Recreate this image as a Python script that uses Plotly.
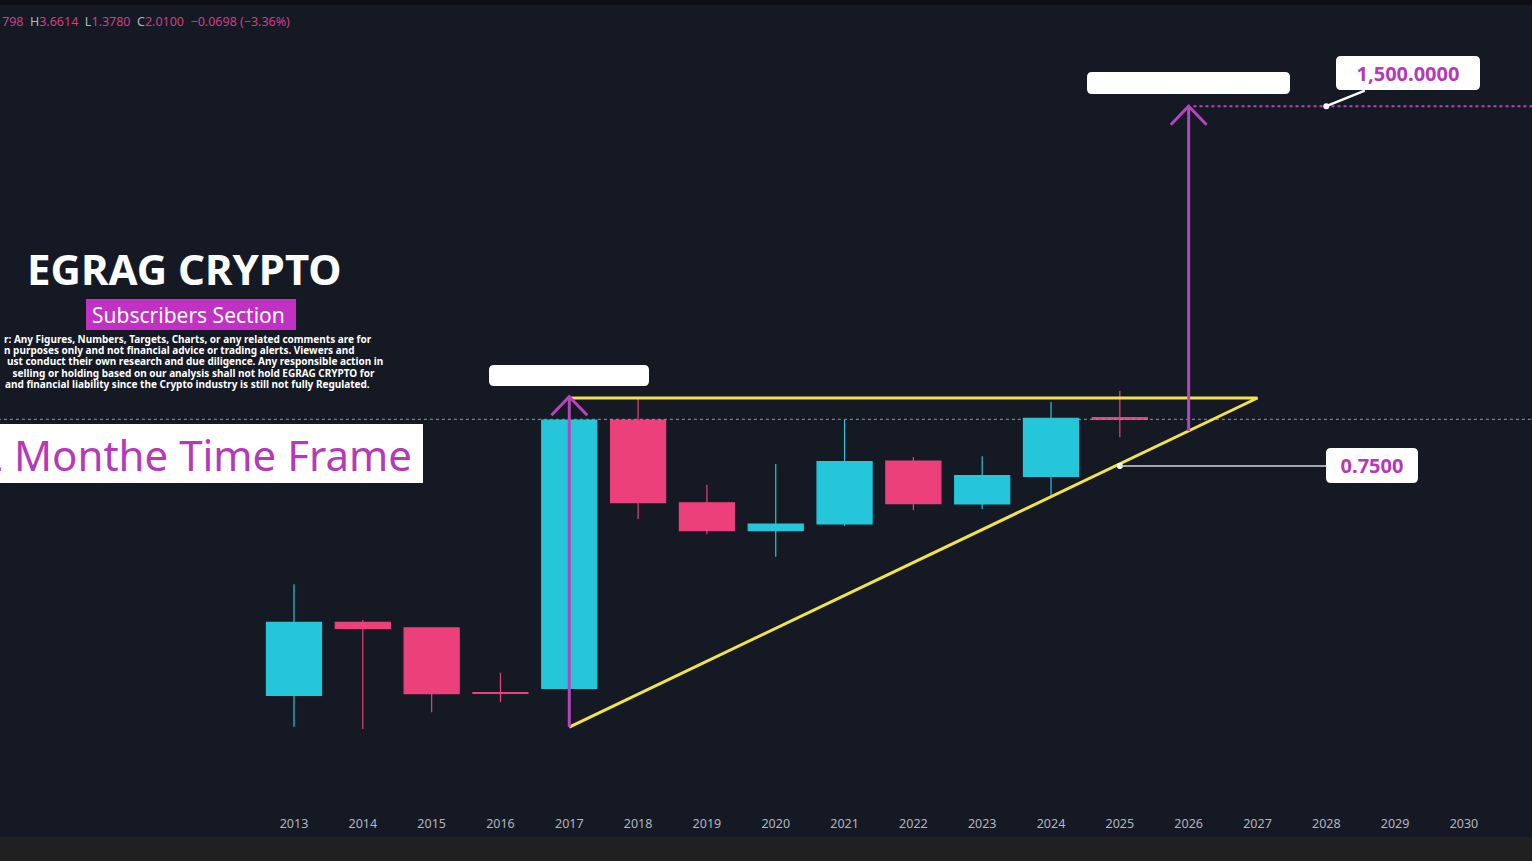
import numpy as np
import plotly.graph_objects as go

# yearly candles (log price scale)
years = [2013, 2014, 2015, 2016, 2017, 2018, 2019, 2020, 2021, 2022, 2023, 2024, 2025]
opens = [0.0059, 0.0276, 0.0245, 0.00626, 0.00684, 1.981, 0.345, 0.191, 0.220, 0.833, 0.336, 0.603, 2.0798]
highs = [0.0616, 0.0290, 0.0245, 0.00952, 3.087, 3.172, 0.502, 0.782, 1.98, 0.907, 0.920, 2.897, 3.6614]
lows = [0.00304, 0.0029, 0.00412, 0.00509, 0.00535, 0.245, 0.177, 0.110, 0.211, 0.294, 0.300, 0.400, 1.3780]
closes = [0.0276, 0.0243, 0.00611, 0.00613, 1.981, 0.345, 0.191, 0.220, 0.821, 0.338, 0.611, 2.053, 2.0100]

tick_years = list(range(2013, 2032))
tick_labels = [str(y) for y in tick_years]

# drawings
tri_x = [2017, 2027, 2017]
tri_y = [3.152, 3.152, 0.00302]
arrow1_x = [2017, 2017]
arrow1_y = [0.00302, 3.24]
arrow2_x = [2026, 2026]
target_price = 1500
support_price = 0.75
last_close = 2.01

BG = "#151924"
CYAN = "#26c6da"
RED = "#ec407a"
YELLOW = "#f2e24b"
PURPLE = "#b446bd"
MAG = "#b43ab8"

W, H = 1532, 861
PLOT_H = 809


def px(p):
    return p / W


def py(p):
    return (PLOT_H - p) / PLOT_H


def round_box(x0, y0, x1, y1, r=5, color="white"):
    # rounded rectangle in paper coords, corners given in pixels
    rx, ry = r / W, r / PLOT_H
    a, b, c, d = px(x0), px(x1), py(y1), py(y0)  # left, right, bottom, top
    path = (f"M{a + rx},{d} L{b - rx},{d} Q{b},{d} {b},{d - ry} "
            f"L{b},{c + ry} Q{b},{c} {b - rx},{c} L{a + rx},{c} Q{a},{c} {a},{c + ry} "
            f"L{a},{d - ry} Q{a},{d} {a + rx},{d} Z")
    return dict(type="path", xref="paper", yref="paper", path=path,
                fillcolor=color, line=dict(width=0))


fig = go.Figure()

fig.add_trace(go.Candlestick(
    x=years, open=opens, high=highs, low=lows, close=closes,
    increasing=dict(line=dict(color=CYAN, width=1.2), fillcolor=CYAN),
    decreasing=dict(line=dict(color=RED, width=1.2), fillcolor=RED),
    whiskerwidth=0, hoverinfo="skip", showlegend=False,
))

# current price dotted line
fig.add_trace(go.Scatter(x=[2008, 2032], y=[last_close, last_close], mode="lines",
                         line=dict(color="#9598a1", width=1, dash="dot"),
                         hoverinfo="skip", showlegend=False))

# triangle
fig.add_trace(go.Scatter(x=tri_x, y=tri_y, mode="lines",
                         line=dict(color=YELLOW, width=3),
                         hoverinfo="skip", showlegend=False))

# trendline value at 2026 (start of second arrow)
lo = np.log10(tri_y[2])
hi = np.log10(tri_y[1])
base2 = 10 ** (lo + (hi - lo) * (arrow2_x[0] - tri_x[0]) / (tri_x[1] - tri_x[0]))
arrow2_y = [base2, target_price]

# purple arrows with open heads
for ax_, ay_ in [(arrow1_x, arrow1_y), (arrow2_x, arrow2_y)]:
    fig.add_trace(go.Scatter(x=ax_, y=ay_, mode="lines",
                             line=dict(color=PURPLE, width=3),
                             hoverinfo="skip", showlegend=False))
    tip_x, tip_y = ax_[1], ay_[1]
    fig.add_trace(go.Scatter(x=[tip_x - 0.26, tip_x, tip_x + 0.26],
                             y=[tip_y * 10 ** -0.17, tip_y, tip_y * 10 ** -0.17],
                             mode="lines", line=dict(color=PURPLE, width=3),
                             hoverinfo="skip", showlegend=False))

# target dotted line
fig.add_trace(go.Scatter(x=[2026.07, 2032], y=[target_price, target_price], mode="lines",
                         line=dict(color="#c040b8", width=2, dash="dot"),
                         hoverinfo="skip", showlegend=False))

# label anchor points
fig.add_trace(go.Scatter(x=[2025, 2028], y=[support_price, target_price], mode="markers",
                         marker=dict(color="white", size=6),
                         hoverinfo="skip", showlegend=False))

annotations = []
annotations.append(dict(x=2025, y=np.log10(support_price), xref="x", yref="y",
                        text="<b>0.7500</b>", showarrow=True, arrowhead=0, arrowwidth=1.5,
                        arrowcolor="#d1d4dc", ax=252, ay=0,
                        borderpad=5, width=80, height=25,
                        font=dict(family="Noto Sans", size=20, color=MAG)))
annotations.append(dict(x=2028, y=np.log10(target_price), xref="x", yref="y",
                        text="<b>1,500.0000</b>", showarrow=True, arrowhead=0, arrowwidth=2.5,
                        arrowcolor="white", ax=82, ay=-33,
                        borderpad=5, width=132, height=24,
                        font=dict(family="Noto Sans", size=20, color=MAG)))

# left side texts
annotations.append(dict(x=px(184), y=py(268), xref="paper", yref="paper",
                        text="<b>EGRAG CRYPTO</b>", showarrow=False,
                        xanchor="center", yanchor="middle",
                        font=dict(family="Noto Sans", size=42, color="white")))
annotations.append(dict(x=px(188), y=py(315), xref="paper", yref="paper",
                        text="Subscribers Section", showarrow=False,
                        xanchor="center", yanchor="middle",
                        font=dict(family="Noto Sans", size=21, color="white")))
disclaimer = [
    "r: Any Figures, Numbers, Targets, Charts, or any related comments are for",
    "n purposes only and not financial advice or trading alerts. Viewers and",
    "ust conduct their own research and due diligence. Any responsible action in",
    " selling or holding based on our analysis shall not hold EGRAG CRYPTO for",
    "and financial liability since the Crypto industry is still not fully Regulated.",
]
disc_x = [2, 2, 5, 8, 3]
for i, line in enumerate(disclaimer):
    annotations.append(dict(x=px(disc_x[i]), y=py(339 + 11.2 * i), xref="paper", yref="paper",
                            text="<b>" + line + "</b>", showarrow=False,
                            xanchor="left", yanchor="middle",
                            font=dict(family="Noto Sans", size=10, color="white")))
annotations.append(dict(x=px(414), y=py(454), xref="paper", yref="paper",
                        text="12 Monthe Time Frame", showarrow=False,
                        xanchor="right", yanchor="middle",
                        font=dict(family="Noto Sans", size=42, color=MAG)))

# header OHLC line
g = "#b2b5be"
p = "#cf3f84"
header = ('<span style="color:%s">798</span>&nbsp;&nbsp;H<span style="color:%s">3.6614</span>'
          '&nbsp;&nbsp;L<span style="color:%s">1.3780</span>&nbsp;&nbsp;C<span style="color:%s">2.0100</span>'
          '&nbsp;&nbsp;<span style="color:%s">\u22120.0698 (\u22123.36%%)</span>') % (p, p, p, p, p)
annotations.append(dict(x=px(0), y=py(22), xref="paper", yref="paper",
                        text=header, showarrow=False, xanchor="left", yanchor="middle",
                        font=dict(family="Noto Sans", size=12.5, color=g)))

shapes = [
    # blank white labels and price callouts
    round_box(1087, 72, 1290, 94),
    round_box(489, 365, 649, 386),
    round_box(1336, 56, 1480, 90),
    round_box(1326, 448, 1418, 483),
    # subscribers box
    dict(type="rect", xref="paper", yref="paper", x0=px(86), x1=px(296), y0=py(330), y1=py(299),
         fillcolor="#c131c4", line=dict(width=0), layer="below"),
    # time frame box
    dict(type="rect", xref="paper", yref="paper", x0=-0.01, x1=px(423), y0=py(483), y1=py(424),
         fillcolor="white", line=dict(width=0), layer="below"),
    # bottom band and top edge
    dict(type="rect", xref="paper", yref="paper", x0=-0.01, x1=1.01, y0=py(862), y1=py(837),
         fillcolor="#202020", line=dict(width=0)),
    dict(type="rect", xref="paper", yref="paper", x0=-0.01, x1=1.01, y0=py(5), y1=py(-1),
         fillcolor="#0d0f14", line=dict(width=0)),
]

y_top = np.log10(last_close) + 419.3 / 109
y_bot = np.log10(last_close) - (PLOT_H - 419.3) / 109

fig.update_layout(
    width=W, height=H,
    margin=dict(l=0, r=0, t=0, b=H - PLOT_H),
    paper_bgcolor=BG, plot_bgcolor=BG,
    boxgap=0.0, boxgroupgap=0.2,
    showlegend=False,
    annotations=annotations,
    shapes=shapes,
    xaxis=dict(range=[2008.728, 2030.989], tickvals=tick_years, ticktext=tick_labels,
               showgrid=False, zeroline=False, showline=False, ticks="",
               ticklabelstandoff=5,
               rangeslider=dict(visible=False),
               tickfont=dict(family="Noto Sans", size=12.5, color="#b2b5be")),
    yaxis=dict(type="log", range=[y_bot, y_top], showgrid=False, zeroline=False,
               showticklabels=False, showline=False, ticks=""),
)

# page margin off so the chart sits at the window corner
fig.write_html("out.html", config={"displayModeBar": False},
               post_script="document.body.style.margin='0';")
